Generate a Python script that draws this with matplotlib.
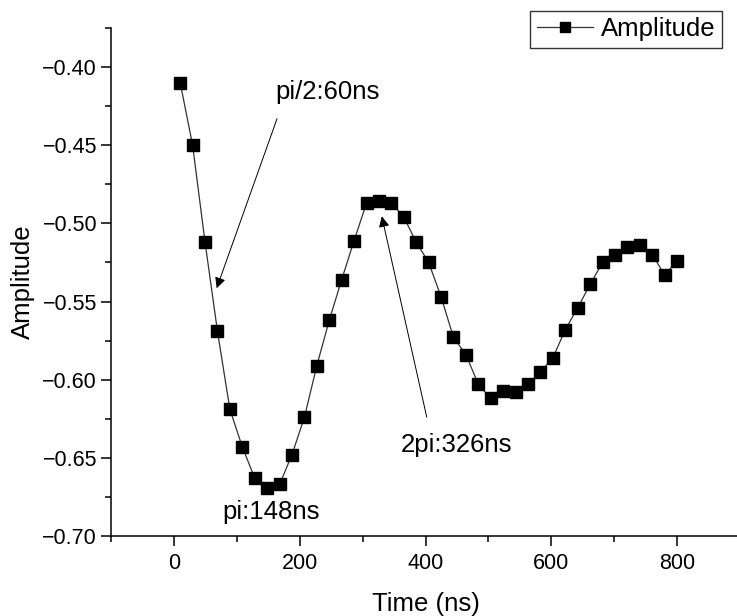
import matplotlib
matplotlib.use("Agg")
from matplotlib import pyplot as plt
from matplotlib.ticker import MultipleLocator

plt.rcParams["font.family"] = ["Liberation Sans", "DejaVu Sans"]

time_ns = [
    10, 29.75, 49.5, 69.25, 89, 108.75, 128.5, 148.25, 168, 187.75,
    207.5, 227.25, 247, 266.75, 286.5, 306.25, 326, 345.75, 365.5, 385.25,
    405, 424.75, 444.5, 464.25, 484, 503.75, 523.5, 543.25, 563, 582.75,
    602.5, 622.25, 642, 661.75, 681.5, 701.25, 721, 740.75, 760.5, 780.25,
    800,
]
amplitude = [
    -0.410, -0.450, -0.512, -0.569, -0.619, -0.643, -0.663, -0.669, -0.667, -0.648,
    -0.624, -0.591, -0.562, -0.536, -0.511, -0.487, -0.486, -0.487, -0.496, -0.512,
    -0.525, -0.547, -0.573, -0.584, -0.603, -0.612, -0.607, -0.608, -0.603, -0.595,
    -0.586, -0.568, -0.554, -0.539, -0.525, -0.520, -0.515, -0.514, -0.520, -0.533,
    -0.524,
]

# (label, text position, arrow tail, arrow tip)
notes = [
    ("pi/2:60ns", (162, -0.416), (164, -0.433), (68, -0.5415)),
    ("2pi:326ns", (360, -0.642), (402, -0.624), (330.5, -0.4955)),
]
pi_label = ("pi:148ns", (77, -0.6847))


def main():
    figure = plt.figure(figsize=(7.37, 6.16), dpi=100)
    axis = figure.add_axes([0.1506, 0.1299, 0.8535, 0.8247])

    axis.plot(
        time_ns,
        amplitude,
        color="#333333",
        linewidth=0.9,
        marker="s",
        markersize=8.5,
        markerfacecolor="black",
        markeredgecolor="black",
        label="Amplitude",
    )

    for text, text_pos, tail, tip in notes:
        axis.text(text_pos[0], text_pos[1], text, fontsize=18.5, va="center", ha="left")
        axis.annotate(
            "",
            xy=tip,
            xytext=tail,
            arrowprops=dict(arrowstyle="-|>", color="black", linewidth=0.7,
                            mutation_scale=16, shrinkA=0, shrinkB=0),
        )
    axis.text(pi_label[1][0], pi_label[1][1], pi_label[0], fontsize=18.5,
              va="center", ha="left")

    axis.set_xlim(-100, 900)
    axis.set_ylim(-0.70, -0.375)
    axis.xaxis.set_major_locator(MultipleLocator(200))
    axis.xaxis.set_minor_locator(MultipleLocator(100))
    axis.yaxis.set_major_locator(MultipleLocator(0.05))
    axis.yaxis.set_minor_locator(MultipleLocator(0.025))
    axis.yaxis.set_major_formatter(lambda v, pos: f"{v:.2f}".replace("-", "\u2212"))

    axis.spines["top"].set_visible(False)
    axis.spines["right"].set_visible(False)
    axis.spines["left"].set_linewidth(1.1)
    axis.spines["bottom"].set_linewidth(1.1)
    axis.tick_params(which="major", direction="out", length=7, width=1.1,
                     labelsize=15.5, pad=5)
    axis.tick_params(axis="y", which="major", pad=3)
    axis.tick_params(which="minor", direction="out", length=4, width=1.1)

    axis.set_xlabel("Time (ns)", fontsize=18.5, labelpad=13)
    axis.set_ylabel("Amplitude", fontsize=18.5, labelpad=5)

    axis.legend(
        loc="upper right",
        bbox_to_anchor=(722 / 737, 1 - 11 / 616),
        bbox_transform=figure.transFigure,
        fontsize=18.5,
        fancybox=False,
        edgecolor="#333333",
        framealpha=1,
        borderpad=0.25,
        handlelength=2.2,
        handletextpad=0.3,
        borderaxespad=0,
        markerscale=0.85,
    )

    figure.savefig("out.png", dpi=100)


main()
